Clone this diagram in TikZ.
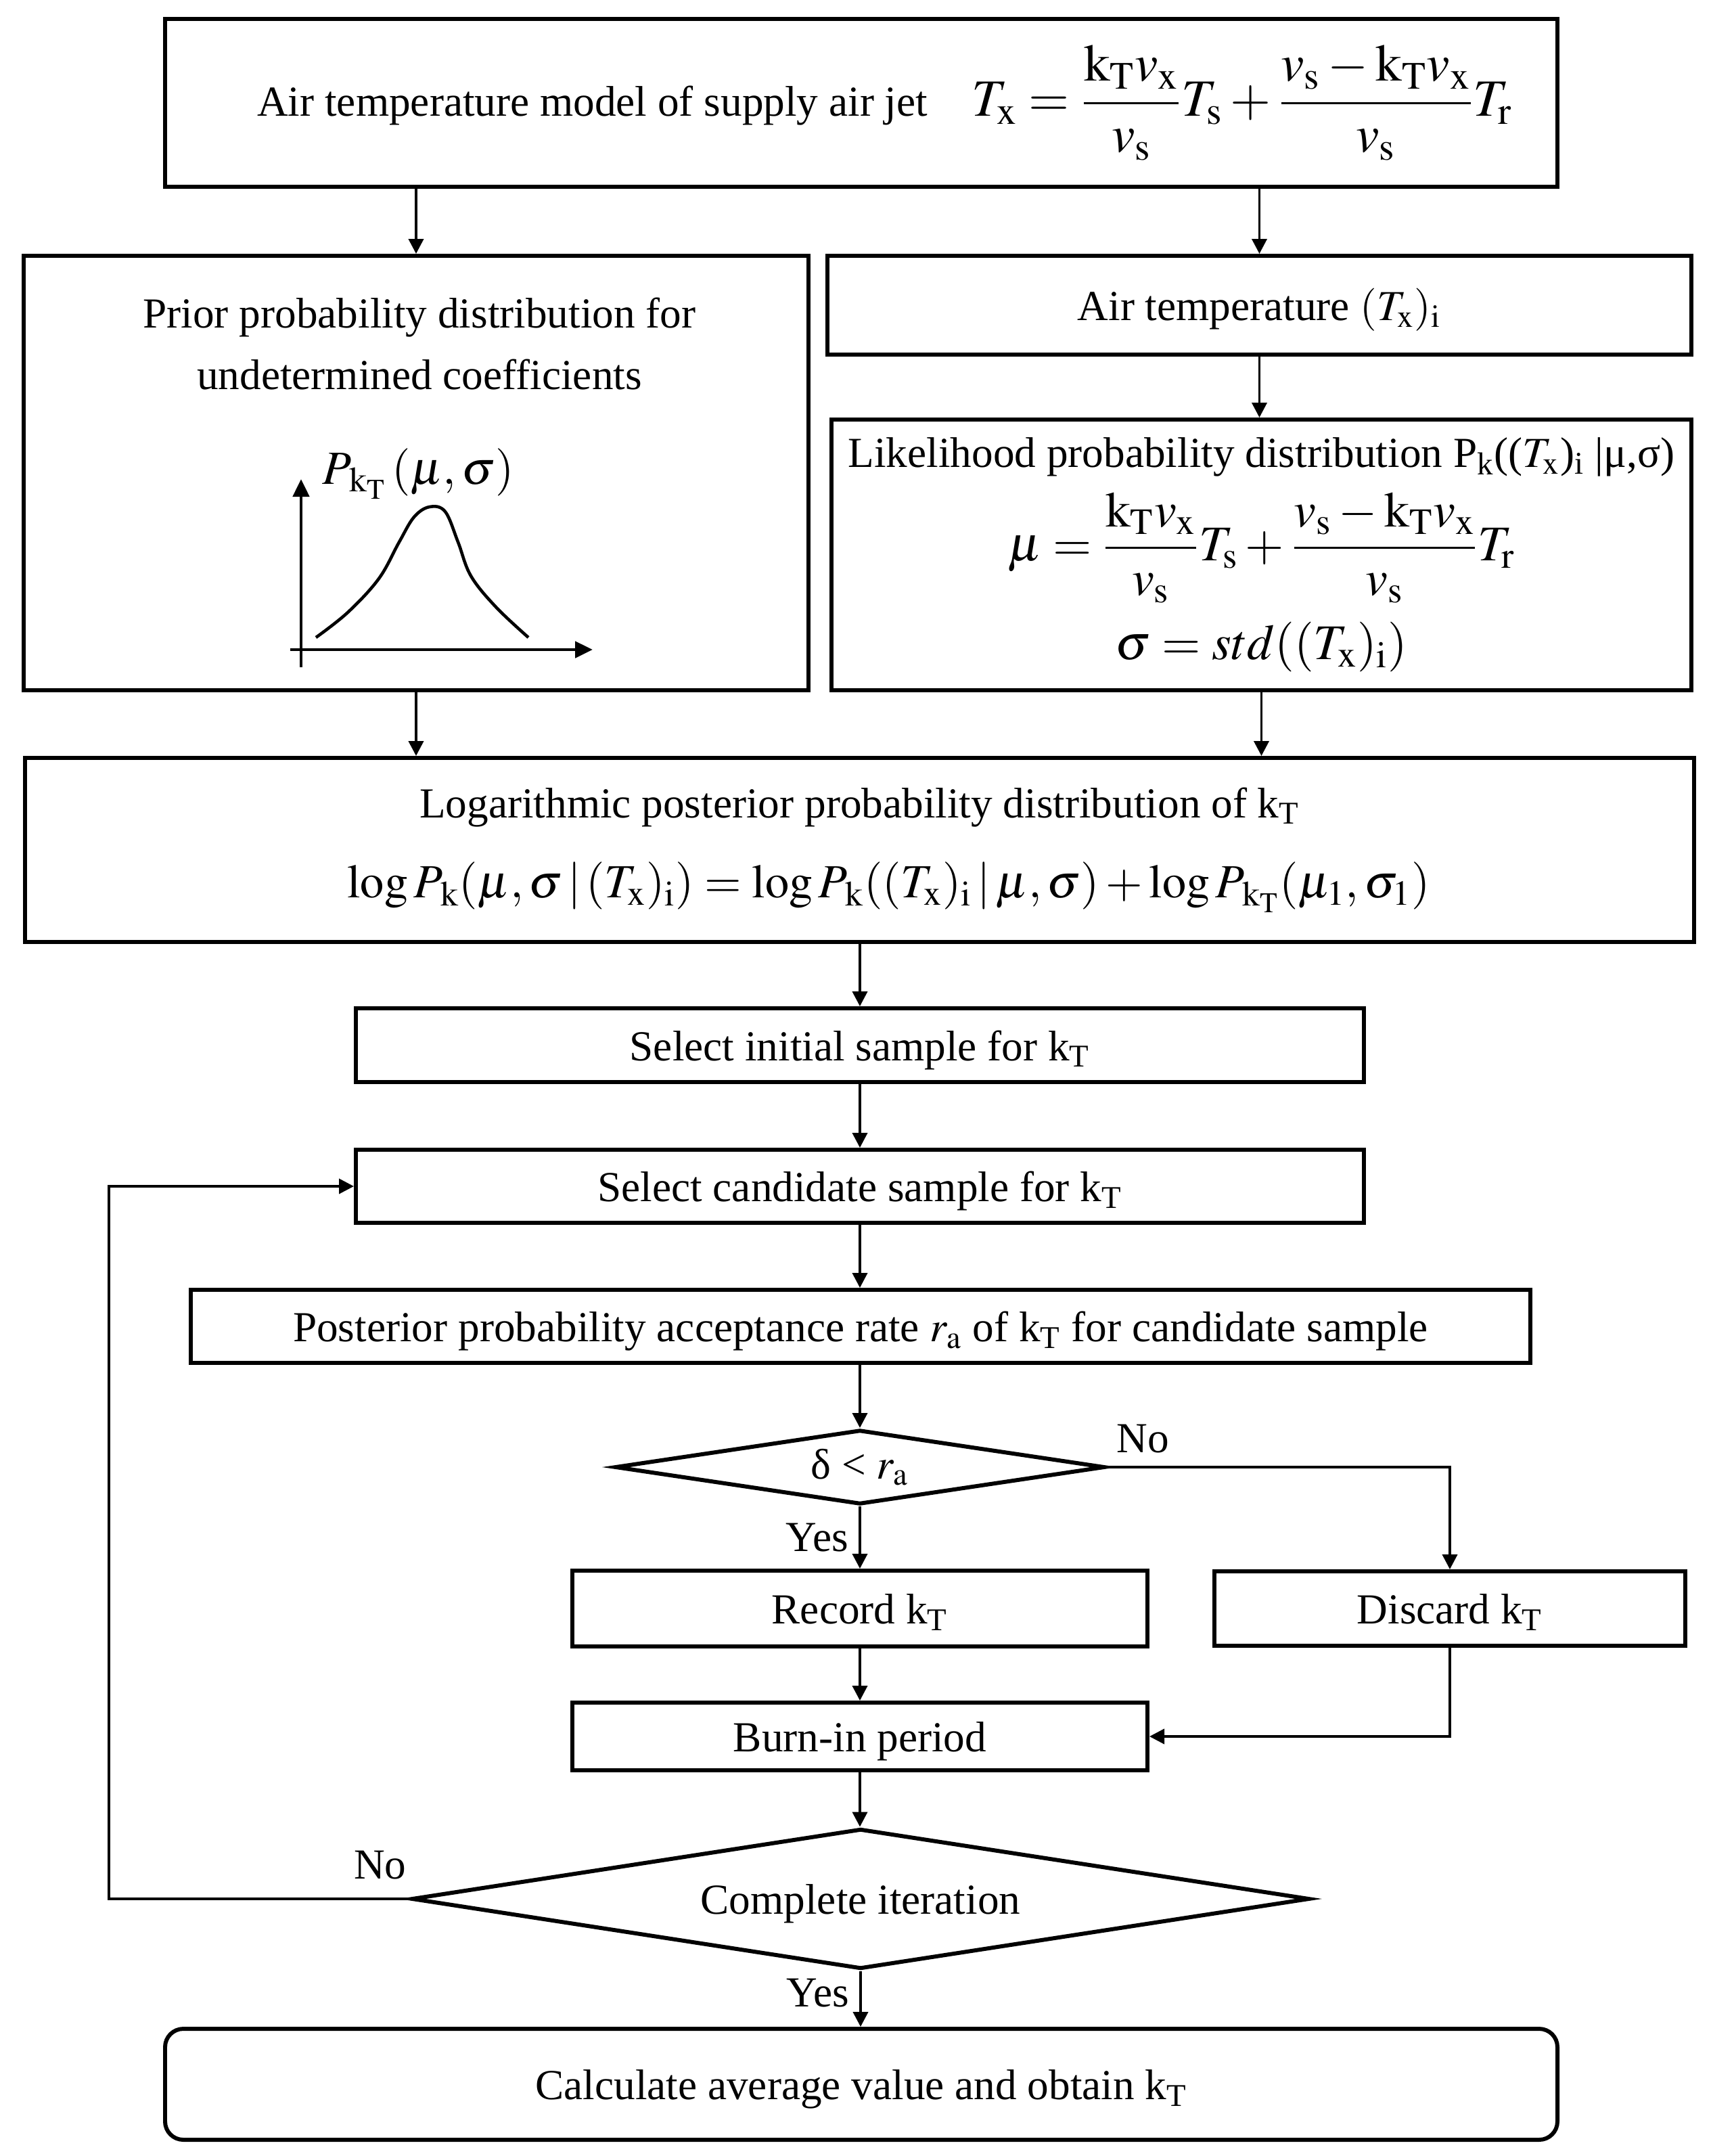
\documentclass[tikz,border=0pt]{standalone}
\usepackage{amsmath}
\usepackage{mathptmx}
\usepackage{fontspec}
\setmainfont{Liberation Serif}
\usetikzlibrary{arrows.meta, positioning, shapes.geometric}
\newcommand{\kT}{k\textsubscript{T}}
\newcommand{\eqsize}{\fontsize{21}{25}\selectfont}

\begin{document}
\begin{tikzpicture}[
    font=\fontsize{18}{21}\selectfont,
    proc/.style={rectangle, draw, line width=1.7pt, inner sep=0pt, align=center},
    oneline/.style={text height=0.55cm, text depth=0.1cm},
    term/.style={proc, oneline, rounded corners=0.27cm},
    dec/.style={diamond, draw, line width=1.7pt, inner sep=0pt, align=center},
    arrow/.style={-{Triangle[length=0.22cm, width=0.22cm]}, line width=1.1pt},
    axis/.style={-{Triangle[length=0.26cm, width=0.24cm]}, line width=1.4pt},
    lab/.style={inner sep=2pt}
]
\useasboundingbox (0,0) rectangle (25.28,-31.86);

% model and inputs
\node[proc, minimum width=20.58cm, minimum height=2.48cm] (model) at (12.73,-1.52)
    {\hspace*{0.7cm}Air temperature model of supply air jet\hspace{0.65cm}{\fontsize{22}{26}\selectfont
    $T_\mathrm{x}=\dfrac{\mathrm{k}_\mathrm{T}v_\mathrm{x}}{v_\mathrm{s}}T_\mathrm{s}
    +\dfrac{v_\mathrm{s}-\mathrm{k}_\mathrm{T}v_\mathrm{x}}{v_\mathrm{s}}T_\mathrm{r}$}};
\node[proc, minimum width=11.60cm, minimum height=6.42cm] (prior) at (6.15,-6.99) {};
\node[align=center, font=\fontsize{18}{26}\selectfont] (priortxt) at (6.2,-5.08)
    {Prior probability distribution for\\undetermined coefficients};
\node[proc, oneline, minimum width=12.77cm, minimum height=1.46cm] (airT) at (18.615,-4.51)
    {Air temperature $(T_\mathrm{x})_\mathrm{i}$};
\node[proc, minimum width=12.71cm, minimum height=4.00cm] (like) at (18.645,-8.20)
    {Likelihood probability distribution P\textsubscript{k}(($T_\mathrm{x}$)\textsubscript{i} |μ,σ)\\[0.2cm]
    {\eqsize $\mu=\dfrac{\mathrm{k}_\mathrm{T}v_\mathrm{x}}{v_\mathrm{s}}T_\mathrm{s}
    +\dfrac{v_\mathrm{s}-\mathrm{k}_\mathrm{T}v_\mathrm{x}}{v_\mathrm{s}}T_\mathrm{r}$}\\[0.25cm]
    {\eqsize $\sigma=std((T_\mathrm{x})_\mathrm{i})$}};

% prior curve
\draw[axis] (4.45,-9.86) -- (4.45,-7.08);
\draw[axis] (4.29,-9.60) -- (8.76,-9.60);
\draw[line width=1.3pt] plot[smooth, tension=0.6] coordinates {(4.67,-9.42) (5.14,-9.05)
    (5.60,-8.55) (5.90,-8.01) (6.12,-7.64) (6.35,-7.49) (6.58,-7.56) (6.77,-8.01)
    (6.96,-8.51) (7.33,-8.97) (7.81,-9.42)};
\node (pk) at (6.18,-7.0) {\fontsize{20}{24}\selectfont $P_{\mkern2mu\mathrm{k}_\mathrm{T}}\,(\mu,\sigma)$};

% posterior
\node[proc, minimum width=24.67cm, minimum height=2.72cm] (logp) at (12.705,-12.56)
    {Logarithmic posterior probability distribution of \kT\\[0.45cm]
    \hspace*{0.86cm}{\fontsize{20}{24}\selectfont $\log P_{\mkern2mu\mathrm{k}}(\mu,\sigma\,|\,(T_\mathrm{x})_\mathrm{i})
    =\log P_{\mkern2mu\mathrm{k}}((T_\mathrm{x})_\mathrm{i}\,|\,\mu,\sigma)
    +\log P_{\mkern2mu\mathrm{k}_\mathrm{T}}(\mu_1,\sigma_1)$}};

% sampling
\node[proc, oneline, minimum width=14.90cm, minimum height=1.09cm] (init) at (12.71,-15.445) {Select initial sample for \kT};
\node[proc, oneline, minimum width=14.90cm, minimum height=1.08cm] (cand) at (12.71,-17.53) {Select candidate sample for \kT};
\node[proc, oneline, minimum width=19.80cm, minimum height=1.08cm] (accept) at (12.72,-19.60)
    {Posterior probability acceptance rate $r_\mathrm{a}$ of \kT{} for candidate sample};
\node[dec, minimum width=7.24cm, minimum height=1.10cm, aspect=6.6] (check) at (12.71,-21.68) {δ < $r_\mathrm{a}$};
\node[proc, oneline, minimum width=8.50cm, minimum height=1.12cm] (record) at (12.71,-23.77) {Record \kT};
\node[proc, oneline, minimum width=6.96cm, minimum height=1.10cm] (discard) at (21.43,-23.77) {Discard \kT};
\node[proc, oneline, minimum width=8.50cm, minimum height=1.00cm] (burn) at (12.71,-25.66) {Burn-in period};
\node[dec, oneline, minimum width=13.27cm, minimum height=2.07cm, aspect=6.4] (iter) at (12.72,-28.06) {Complete iteration};
\node[term, minimum width=20.58cm, minimum height=1.64cm] (final) at (12.73,-30.80) {Calculate average value and obtain \kT};
\coordinate (back) at (1.61,-17.53);

% connectors
\draw[arrow] (model.south -| prior.north) -- (prior.north);
\draw[arrow] (model.south -| airT.north) -- (airT.north);
\draw[arrow] (airT.south) -- (airT.south |- like.north);
\draw[arrow] (prior.south) -- (prior.south |- logp.north);
\draw[arrow] (like.south) -- (like.south |- logp.north);
\draw[arrow] (logp.south -| init.north) -- (init.north);
\draw[arrow] (init) -- (cand);
\draw[arrow] (cand.south) -- (cand.south |- accept.north);
\draw[arrow] (accept.south -| check.north) -- (check.north);
\draw[arrow] (check.south) -- node[lab, left, xshift=-0.08cm] {Yes} (check.south |- record.north);
\draw[arrow] (check.east) -| node[lab, at start, anchor=south west, xshift=0.06cm, yshift=0.12cm] {No} (discard.north);
\draw[arrow] (record) -- (burn);
\draw[arrow] (discard.south) |- (burn.east);
\draw[arrow] (burn.south) -- (burn.south |- iter.north);
\draw[arrow] (iter.west) -| node[lab, at start, anchor=south east, xshift=0.04cm, yshift=0.2cm] {No} (back) -- (cand.west);
\draw[arrow] (iter.south) -- node[lab, left, pos=0.4, xshift=-0.08cm] {Yes} (iter.south |- final.north);
\end{tikzpicture}
\end{document}
